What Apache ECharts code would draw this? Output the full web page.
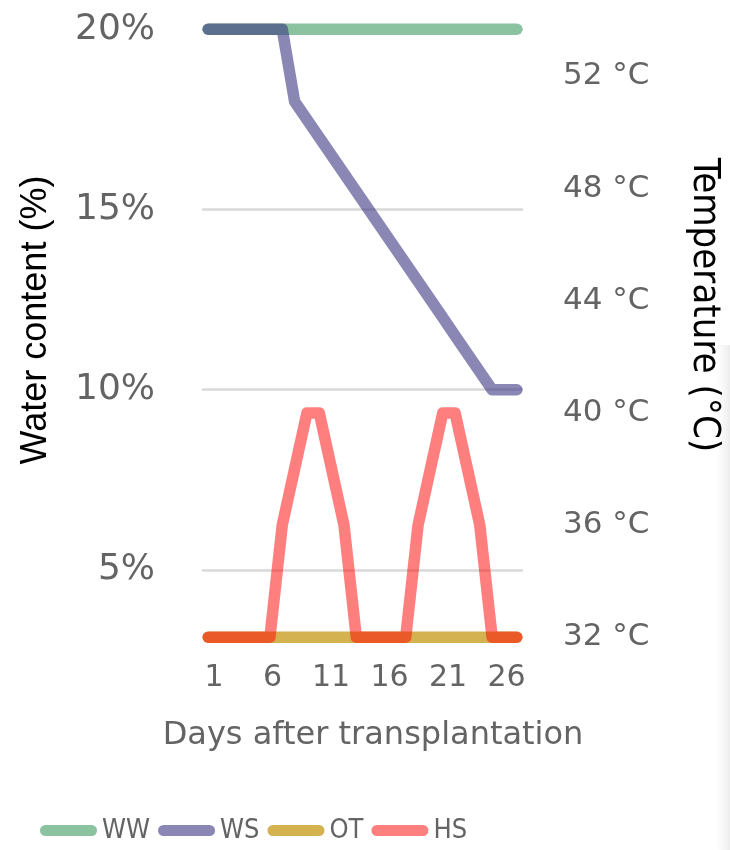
<!DOCTYPE html>
<html>
<head>
<meta charset="utf-8">
<script src="https://cdn.jsdelivr.net/npm/echarts@6/dist/echarts.min.js"></script>
<style>
  html, body { margin: 0; padding: 0; background: #ffffff; }
  #chart { width: 730px; height: 850px; }
</style>
</head>
<body>
<div id="chart"></div>
<script>
// Days after transplantation (one point per day)
const days = [1, 2, 3, 4, 5, 6, 7, 8, 9, 10, 11, 12, 13, 14, 15, 16, 17, 18, 19, 20, 21, 22, 23, 24, 25, 26];
const dayTicks = [1, 6, 11, 16, 21, 26];

// Soil water content (%) – left axis
const ww = [20, 20, 20, 20, 20, 20, 20, 20, 20, 20, 20, 20, 20, 20, 20, 20, 20, 20, 20, 20, 20, 20, 20, 20, 20, 20];
const ws = [20, 20, 20, 20, 20, 20, 20, 18, 17.5, 17, 16.5, 16, 15.5, 15, 14.5, 14, 13.5, 13, 12.5, 12, 11.5, 11, 10.5, 10, 10, 10];

// Air temperature (°C) – right axis
const ot = [32, 32, 32, 32, 32, 32, 32, 32, 32, 32, 32, 32, 32, 32, 32, 32, 32, 32, 32, 32, 32, 32, 32, 32, 32, 32];
const hs = [32, 32, 32, 32, 32, 32, 36, 38, 40, 40, 38, 36, 32, 32, 32, 32, 32, 36, 38, 40, 40, 38, 36, 32, 32, 32];

const waterTicks = [5, 10, 15, 20];
const tempTicks = [32, 36, 40, 44, 48, 52];

const seriesNames = ['WW', 'WS', 'OT', 'HS'];
const seriesColors = ['#8bc2a0', 'rgba(60,55,130,0.6)', '#d4b250', 'rgba(255,0,0,0.5)'];

const tickFont = 'DejaVu Sans';
const narrowFont = 'Liberation Sans Narrow, DejaVu Sans Condensed, Liberation Sans';
const grayText = '#646464';

const chart = echarts.init(document.getElementById('chart'), null, { renderer: 'canvas' });

function lineSeries(name, data, yIndex, color) {
  return {
    name: name,
    type: 'line',
    xAxisIndex: 0,
    yAxisIndex: yIndex,
    data: data,
    symbol: 'none',
    clip: false,
    color: color,
    lineStyle: { color: color, width: 11.5, cap: 'round', join: 'round' },
    itemStyle: { color: color },
    emphasis: { disabled: true },
    animation: false
  };
}

// rounded bar used as legend key
const pill = 'path://M5.5,0 H51.5 A5.5,5.5 0 0 1 51.5,11 H5.5 A5.5,5.5 0 0 1 5.5,0 Z';

chart.setOption({
  backgroundColor: '#ffffff',
  animation: false,
  grid: { left: 202, right: 207, top: 29.3, bottom: 212.7, containLabel: false },
  legend: {
    left: 40,
    top: 817,
    padding: 0,
    itemWidth: 57,
    itemHeight: 11,
    itemGap: 8,
    selectedMode: false,
    textStyle: { fontFamily: narrowFont, fontSize: 27, color: grayText },
    data: seriesNames.map((n, i) => ({ name: n, icon: pill, itemStyle: { color: seriesColors[i] } }))
  },
  xAxis: [
    {
      type: 'category',
      data: days,
      boundaryGap: true,
      axisLine: { show: false },
      axisTick: { show: false },
      axisLabel: { show: false },
      splitLine: { show: false }
    },
    {
      type: 'value',
      position: 'bottom',
      min: -0.03,
      max: 27.41,
      axisLine: { show: false },
      axisTick: { show: false, customValues: dayTicks },
      splitLine: { show: false },
      axisLabel: { customValues: dayTicks, fontFamily: tickFont, fontSize: 30, color: grayText, margin: 26 }
    }
  ],
  yAxis: [
    {
      type: 'value',
      position: 'left',
      min: 3.13,
      max: 20,
      axisLine: { show: false },
      axisTick: { show: false, customValues: waterTicks },
      axisLabel: { customValues: waterTicks, formatter: '{value}%', fontFamily: tickFont, fontSize: 36, color: grayText, margin: 47 },
      splitLine: { show: true, lineStyle: { color: '#d9d9d9', width: 2.5 } }
    },
    {
      type: 'value',
      position: 'right',
      min: 32,
      max: 53.68,
      axisLine: { show: false },
      axisTick: { show: false, customValues: tempTicks },
      axisLabel: { customValues: tempTicks, formatter: '{value} °C', fontFamily: tickFont, fontSize: 31, color: grayText, margin: 40 },
      splitLine: { show: false }
    }
  ],
  graphic: [
    {
      type: 'rect', left: 716, top: 345, z: -1,
      shape: { width: 14, height: 505 },
      style: {
        fill: new echarts.graphic.LinearGradient(0, 0, 1, 0, [
          { offset: 0, color: 'rgba(240,240,240,0)' },
          { offset: 1, color: 'rgba(228,228,228,0.7)' }
        ])
      }
    },
    {
      type: 'text', x: 36, y: 320, rotation: Math.PI / 2,
      style: { text: 'Water content (%)', fontFamily: 'Liberation Sans, DejaVu Sans', fontSize: 36, fill: '#000000', textAlign: 'center', textVerticalAlign: 'middle' }
    },
    {
      type: 'text', x: 704, y: 305, rotation: -Math.PI / 2,
      style: { text: 'Temperature (°C)', fontFamily: narrowFont, fontSize: 38, fill: '#000000', textAlign: 'center', textVerticalAlign: 'middle' }
    },
    {
      type: 'text', x: 373, y: 736,
      style: { text: 'Days after transplantation', fontFamily: tickFont, fontSize: 32, fill: grayText, textAlign: 'center', textVerticalAlign: 'middle' }
    }
  ],
  series: [
    lineSeries('WW', ww, 0, seriesColors[0]),
    lineSeries('WS', ws, 0, seriesColors[1]),
    lineSeries('OT', ot, 1, seriesColors[2]),
    lineSeries('HS', hs, 1, seriesColors[3])
  ]
});
</script>
</body>
</html>
